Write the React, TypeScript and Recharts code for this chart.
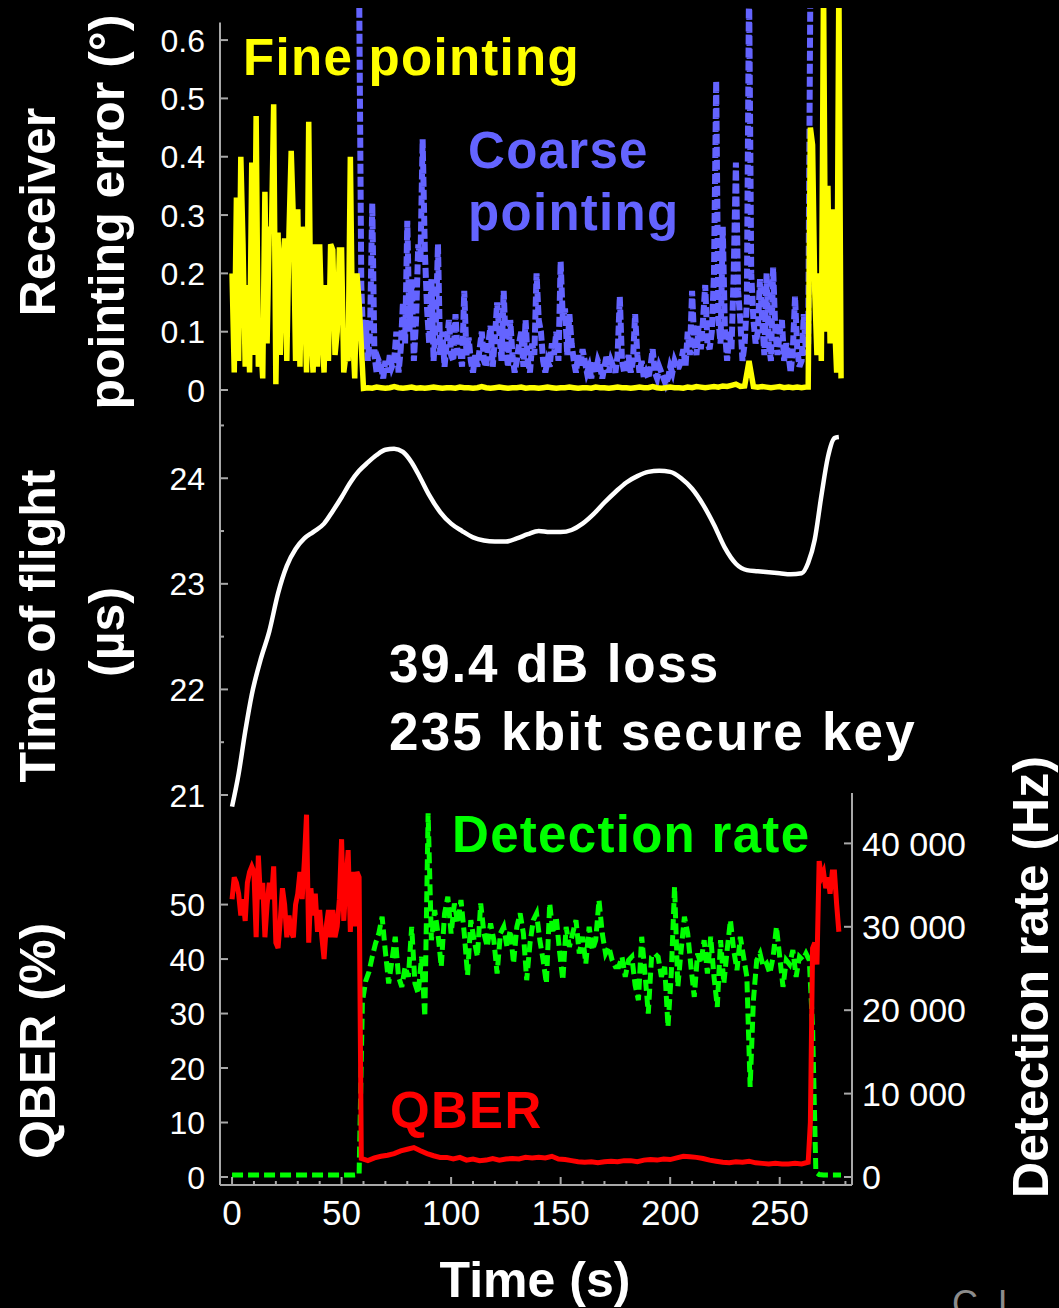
import React from 'react';
import { LineChart, Line, XAxis, YAxis, ReferenceLine } from 'recharts';

const FONT = '"Liberation Sans", Arial, Helvetica, sans-serif';
const AXIS_GRAY = '#a8a8a8';
const YELLOW = '#ffff00';
const BLUE = '#6464ff';
const GREEN = '#00ff00';
const RED = '#ff0000';
const WHITE = '#ffffff';

// ---- shared time axis (s) ----
const TIME_MIN = -5.5;
const TIME_MAX = 283;
const timeTicks = [0, 10, 20, 30, 40, 50, 60, 70, 80, 90, 100, 110, 120, 130, 140, 150, 160, 170, 180, 190, 200, 210, 220, 230, 240, 250, 260, 270, 280];
const timeLabelTicks = [0, 50, 100, 150, 200, 250];

// ---- receiver pointing error (deg) ----
const ERR_MIN = -0.0171;
const ERR_MAX = 0.655;
const errTicks = [0, 0.1, 0.2, 0.3, 0.4, 0.5, 0.6];

// fine pointing: acquisition phase, 1 s samples from t = 0
const fineAcqError = [
  0.2, 0.03, 0.33, 0.05, 0.4, 0.25, 0.04, 0.18, 0.03, 0.39,
  0.06, 0.47, 0.04, 0.09, 0.02, 0.34, 0.08, 0.28, 0.27, 0.49,
  0.01, 0.27, 0.06, 0.21, 0.26, 0.05, 0.27, 0.41, 0.29, 0.05,
  0.31, 0.04, 0.28, 0.18, 0.03, 0.46, 0.1, 0.03, 0.25, 0.04,
  0.25, 0.11, 0.03, 0.18, 0.05, 0.25, 0.24, 0.06, 0.1, 0.24,
  0.24, 0.03, 0.06, 0.05, 0.4, 0.1, 0.02, 0.2, 0.15,
];
// fine pointing while locked, 2 s samples from t = 60
const fineLockError = [
  0.003, 0.004, 0.003, 0.005, 0.004, 0.003, 0.004, 0.006, 0.004, 0.003,
  0.004, 0.005, 0.003, 0.004, 0.003, 0.004, 0.005, 0.004, 0.003, 0.004,
  0.004, 0.003, 0.005, 0.004, 0.004, 0.003, 0.004, 0.006, 0.004, 0.003,
  0.004, 0.005, 0.004, 0.003, 0.004, 0.004, 0.005, 0.003, 0.004, 0.004,
  0.003, 0.004, 0.005, 0.004, 0.003, 0.004, 0.004, 0.005, 0.004, 0.003,
  0.004, 0.004, 0.003, 0.005, 0.004, 0.004, 0.003, 0.004, 0.005, 0.004,
  0.004, 0.003, 0.004, 0.005, 0.004, 0.004, 0.006, 0.004, 0.003, 0.004,
  0.005, 0.004, 0.004, 0.003, 0.005, 0.004, 0.006, 0.005, 0.004, 0.005,
  0.006, 0.005, 0.007, 0.006, 0.008, 0.01, 0.006, 0.007, 0.05, 0.006,
  0.005, 0.006, 0.005, 0.004, 0.005, 0.006, 0.004, 0.005, 0.004, 0.005,
  0.004, 0.005,
];
// fine pointing after the lock is lost, 1 s samples from t = 263
const fineLossError = [0.005, 0.45, 0.42, 0.17, 0.06, 0.2, 0.05, 0.7, 0.1, 0.35, 0.08, 0.31, 0.12, 0.03, 0.7, 0.02];

// coarse pointing, 1 s samples from t = 58
const coarseError = [
  0.7, 0.18, 0.07, 0.12, 0.05, 0.1, 0.32, 0.06, 0.03, 0.05,
  0.04, 0.02, 0.05, 0.03, 0.06, 0.04, 0.05, 0.1, 0.03, 0.07,
  0.15, 0.08, 0.29, 0.1, 0.19, 0.05, 0.12, 0.25, 0.22, 0.43,
  0.24, 0.14, 0.08, 0.19, 0.05, 0.11, 0.25, 0.06, 0.1, 0.04,
  0.08, 0.12, 0.06, 0.05, 0.13, 0.06, 0.07, 0.04, 0.17, 0.06,
  0.09, 0.05, 0.03, 0.06, 0.04, 0.07, 0.1, 0.05, 0.04, 0.08,
  0.11, 0.04, 0.09, 0.15, 0.1, 0.05, 0.17, 0.07, 0.04, 0.12,
  0.06, 0.03, 0.05, 0.08, 0.1, 0.04, 0.12, 0.05, 0.03, 0.08,
  0.06, 0.2, 0.12, 0.1, 0.05, 0.03, 0.05, 0.04, 0.08, 0.06,
  0.1, 0.05, 0.22, 0.12, 0.14, 0.06, 0.13, 0.08, 0.05, 0.03,
  0.06, 0.04, 0.07, 0.05, 0.03, 0.04, 0.02, 0.05, 0.03, 0.05,
  0.04, 0.02, 0.04, 0.06, 0.03, 0.05, 0.04, 0.03, 0.06, 0.16,
  0.05, 0.03, 0.04, 0.06, 0.03, 0.05, 0.13, 0.06, 0.03, 0.05,
  0.02, 0.03, 0.02, 0.04, 0.07, 0.03, 0.02, 0.04, 0.03, 0.02,
  0.01, 0.02, 0.04, 0.03, 0.05, 0.04, 0.04, 0.05, 0.07, 0.04,
  0.1, 0.06, 0.17, 0.08, 0.06, 0.11, 0.07, 0.12, 0.18, 0.08,
  0.07, 0.1, 0.2, 0.53, 0.12, 0.08, 0.28, 0.1, 0.05, 0.1,
  0.07, 0.2, 0.39, 0.17, 0.12, 0.05, 0.08, 0.15, 0.7, 0.2,
  0.12, 0.08, 0.1, 0.19, 0.12, 0.06, 0.2, 0.08, 0.05, 0.21,
  0.1, 0.06, 0.1, 0.12, 0.05, 0.08, 0.06, 0.03, 0.07, 0.16,
  0.07, 0.04, 0.05, 0.13, 0.06, 0.08, 0.7,
];

// ---- time of flight (µs) ----
const TOF_MIN = 20.839;
const TOF_MAX = 24.741;
const tofTicks = [21, 21.5, 22, 22.5, 23, 23.5, 24, 24.5];
const tofLabelTicks = [21, 22, 23, 24];
const flightTimes = [
  0, 3, 6, 9, 13, 17, 21, 25, 29, 33, 37, 42, 46, 50, 54, 58, 62, 66, 70, 74, 78, 82, 86, 90,
  95, 100, 105, 110, 115, 120, 125, 130, 135, 140, 145, 150, 155, 160, 165, 170, 175, 180,
  185, 190, 195, 200, 205, 210, 215, 220, 225, 230, 235, 240, 245, 250, 255, 260,
  263, 266, 269, 272, 275, 277,
];
const flightValues = [
  20.89, 21.2, 21.6, 21.95, 22.28, 22.55, 22.91, 23.17, 23.33, 23.43, 23.49, 23.57, 23.69, 23.82,
  23.96, 24.07, 24.15, 24.22, 24.27, 24.28, 24.25, 24.15, 24.0, 23.84,
  23.68, 23.57, 23.5, 23.44, 23.41, 23.4, 23.4, 23.43, 23.47, 23.5, 23.49, 23.49, 23.51, 23.57,
  23.66, 23.77, 23.87, 23.96, 24.02, 24.06, 24.07, 24.06, 24.0, 23.9, 23.75, 23.56, 23.34, 23.19,
  23.13, 23.12, 23.11, 23.1, 23.09, 23.1,
  23.2, 23.42, 23.83, 24.2, 24.38, 24.39,
];

// ---- QBER (%) and detection rate (Hz) ----
const QBER_MIN = -1.47;
const QBER_MAX = 70.48;
const qberTicks = [0, 10, 20, 30, 40, 50];
const RATE_MIN = -959;
const RATE_MAX = 46043;
const rateTicks = [0, 10000, 20000, 30000, 40000];

// 1 s samples from t = 0
const qberAcquisition = [
  51, 55, 54, 52, 48, 51, 47, 54, 56, 57,
  56, 44, 59, 51, 54, 44, 50, 54, 51, 57,
  43, 42, 47, 53, 50, 44, 48, 45, 44, 50,
  52, 56, 51, 58, 66.5, 43, 53, 48, 52, 45,
  49, 44, 40, 46, 49, 44, 49, 44, 46, 51,
  62, 47, 54, 60, 45, 56, 46, 56, 55,
];
// 3 s samples from t = 59
const qberKeyExchange = [
  3.4, 3.0, 3.5, 3.8, 4.0, 4.3, 4.8, 5.1, 5.4, 4.8,
  4.3, 3.9, 3.6, 3.6, 3.3, 3.6, 3.1, 3.3, 3.0, 3.1,
  3.4, 3.1, 3.3, 3.4, 3.3, 3.6, 3.5, 3.6, 3.5, 3.8,
  3.3, 3.2, 3.0, 2.8, 2.7, 2.8, 2.6, 2.8, 2.9, 2.8,
  3.0, 3.0, 2.8, 3.1, 3.2, 3.1, 3.3, 3.2, 3.5, 3.8,
  3.7, 3.6, 3.4, 3.1, 2.9, 2.7, 2.6, 2.8, 2.7, 2.9,
  2.6, 2.5, 2.4, 2.5, 2.4, 2.4, 2.5, 2.4, 2.7,
];
// 1 s samples from t = 264
const qberLoss = [10, 42, 43, 39, 58, 55, 56, 53, 55, 52, 56, 56, 50, 45];

// 8 s samples from t = 0
const rateBeforeLink = [250, 250, 250, 250, 250, 250, 250, 250];
// 1.5 s samples from t = 58
const rateLink = [
  300, 21000, 23500, 24600, 26400, 28000, 29200, 31200, 27000, 23200,
  26000, 28800, 24000, 22800, 25200, 24000, 30000, 23200, 22000, 26400,
  19200, 43600, 28400, 32000, 29200, 25200, 31600, 33600, 29200, 32800,
  30400, 33200, 29200, 24200, 30800, 28400, 26400, 32800, 29200, 27600,
  30400, 28400, 24400, 29200, 30000, 27600, 29600, 25600, 30000, 31600,
  29200, 23600, 28000, 30800, 31600, 28400, 26000, 23200, 32800, 29200,
  31200, 27000, 23600, 30000, 27600, 29200, 30800, 26800, 28800, 25600,
  30000, 27200, 28400, 33200, 29200, 26800, 27600, 26000, 25200, 25200,
  26400, 24000, 26000, 26400, 23000, 21200, 28800, 24400, 19600, 26400,
  26800, 26400, 24000, 25200, 18000, 24400, 34800, 22800, 27200, 31200,
  29200, 25200, 21600, 26800, 25600, 28400, 24400, 28800, 24000, 20400,
  28400, 23200, 27200, 30800, 27200, 24800, 28800, 26400, 24000, 10800,
  21200, 26000, 26800, 25200, 25600, 24400, 26400, 30000, 26400, 22800,
  26000, 25500, 27200, 24000, 26400, 26000, 26800, 26000, 18000, 600,
];
// 2 s samples from t = 268
const rateAfterLink = [300, 250, 250, 250, 250, 250];

type Pt = { t: number; v: number };
const run = (start: number, step: number, values: number[]): Pt[] =>
  values.map((v, i) => ({ t: start + i * step, v }));

const fineData = [...run(0, 1, fineAcqError), ...run(60, 2, fineLockError), ...run(263, 1, fineLossError)];
const coarseData = run(58, 1, coarseError);
const flightData = flightTimes.map((t, i) => ({ t, v: flightValues[i] }));
const qberData = [...run(0, 1, qberAcquisition), ...run(59, 3, qberKeyExchange), ...run(264, 1, qberLoss)];
const rateData = [...run(0, 8, rateBeforeLink), ...run(58, 1.5, rateLink), ...run(268, 2, rateAfterLink)];

// ---- layout ----
const W = 1059;
const LEFT_W = 220;
const RIGHT_W = 207;

const fmtErr = (v: number) => (v === 0 ? '0' : v.toFixed(1));
const fmtPlain = (v: number) => String(v);
const fmtRate = (v: number) => (v === 0 ? '0' : `${v / 1000} 000`);

function AxisTick(props: any) {
  const { x, y, payload, side, majors, format, fontSize } = props;
  const v = payload.value as number;
  const major = majors.includes(v);
  const len = major ? 8 : 4;
  const textProps = { fill: WHITE, fontSize, fontFamily: FONT };
  if (side === 'left') {
    return (
      <g>
        <line x1={x} y1={y} x2={x + len} y2={y} stroke={AXIS_GRAY} strokeWidth={2} />
        {major && (
          <text x={x - 15} y={y} dy="0.36em" textAnchor="end" {...textProps}>
            {format(v)}
          </text>
        )}
      </g>
    );
  }
  if (side === 'right') {
    return (
      <g>
        <line x1={x - len} y1={y} x2={x} y2={y} stroke={AXIS_GRAY} strokeWidth={2} />
        {major && (
          <text x={x + 10} y={y} dy="0.36em" textAnchor="start" {...textProps}>
            {format(v)}
          </text>
        )}
      </g>
    );
  }
  return (
    <g>
      <line x1={x} y1={y - len} x2={x} y2={y} stroke={AXIS_GRAY} strokeWidth={2} />
      {major && (
        <text x={x} y={y + 40} textAnchor="middle" {...textProps}>
          {format(v)}
        </text>
      )}
    </g>
  );
}

const axisLineStyle = { stroke: AXIS_GRAY, strokeWidth: 2 };

function PointingPanel() {
  return (
    <LineChart width={W} height={392} margin={{ top: 0, right: RIGHT_W, bottom: 0, left: 0 }}>
      <XAxis dataKey="t" type="number" domain={[TIME_MIN, TIME_MAX]} allowDataOverflow hide />
      <YAxis
        type="number"
        width={LEFT_W}
        domain={[ERR_MIN, ERR_MAX]}
        allowDataOverflow
        ticks={errTicks}
        interval={0}
        axisLine={false}
        tickLine={false}
        tickSize={0}
        tickMargin={0}
        tick={<AxisTick side="left" majors={errTicks} format={fmtErr} fontSize={32} />}
      />
      <ReferenceLine
        segment={[{ x: TIME_MIN, y: ERR_MIN }, { x: TIME_MIN, y: 0.63 }]}
        stroke={AXIS_GRAY}
        strokeWidth={2}
        ifOverflow="visible"
      />
      <Line data={coarseData} dataKey="v" stroke={BLUE} strokeWidth={6} strokeDasharray="10 3" dot={false} activeDot={false} isAnimationActive={false} />
      <Line data={fineData} dataKey="v" stroke={YELLOW} strokeWidth={5.5} dot={false} activeDot={false} isAnimationActive={false} />
    </LineChart>
  );
}

function FlightPanel() {
  return (
    <LineChart width={W} height={412} margin={{ top: 0, right: RIGHT_W, bottom: 0, left: 0 }}>
      <XAxis dataKey="t" type="number" domain={[TIME_MIN, TIME_MAX]} allowDataOverflow hide />
      <YAxis
        type="number"
        width={LEFT_W}
        domain={[TOF_MIN, TOF_MAX]}
        allowDataOverflow
        ticks={tofTicks}
        interval={0}
        axisLine={axisLineStyle}
        tickLine={false}
        tickSize={0}
        tickMargin={0}
        tick={<AxisTick side="left" majors={tofLabelTicks} format={fmtPlain} fontSize={32} />}
      />
      <Line data={flightData} dataKey="v" type="monotone" stroke={WHITE} strokeWidth={4.5} dot={false} activeDot={false} isAnimationActive={false} />
    </LineChart>
  );
}

function LinkPanel() {
  return (
    <LineChart width={W} height={515} margin={{ top: 0, right: 0, bottom: 0, left: 0 }}>
      <XAxis
        dataKey="t"
        type="number"
        height={123}
        domain={[TIME_MIN, TIME_MAX]}
        allowDataOverflow
        ticks={timeTicks}
        interval={0}
        axisLine={axisLineStyle}
        tickLine={false}
        tickSize={0}
        tickMargin={0}
        tick={<AxisTick side="bottom" majors={timeLabelTicks} format={fmtPlain} fontSize={35} />}
      />
      <YAxis
        yAxisId="qber"
        type="number"
        width={LEFT_W}
        domain={[QBER_MIN, QBER_MAX]}
        allowDataOverflow
        ticks={qberTicks}
        interval={0}
        axisLine={axisLineStyle}
        tickLine={false}
        tickSize={0}
        tickMargin={0}
        tick={<AxisTick side="left" majors={qberTicks} format={fmtPlain} fontSize={32} />}
      />
      <YAxis
        yAxisId="rate"
        orientation="right"
        type="number"
        width={RIGHT_W}
        domain={[RATE_MIN, RATE_MAX]}
        allowDataOverflow
        ticks={rateTicks}
        interval={0}
        axisLine={axisLineStyle}
        tickLine={false}
        tickSize={0}
        tickMargin={0}
        tick={<AxisTick side="right" majors={rateTicks} format={fmtRate} fontSize={34} />}
      />
      <Line yAxisId="rate" data={rateData} dataKey="v" stroke={GREEN} strokeWidth={5} strokeDasharray="11 5" dot={false} activeDot={false} isAnimationActive={false} />
      <Line yAxisId="qber" data={qberData} dataKey="v" stroke={RED} strokeWidth={5} dot={false} activeDot={false} isAnimationActive={false} />
    </LineChart>
  );
}

const titleStyle = { fill: WHITE, fontFamily: FONT, fontWeight: 700, fontSize: 50 } as const;
const noteStyle = { fontFamily: FONT, fontWeight: 700, fontSize: 51, letterSpacing: 1.3 } as const;

function VerticalTitle({ x, y, children }: { x: number; y: number; children: React.ReactNode }) {
  return (
    <text x={x} y={y} transform={`rotate(-90 ${x} ${y})`} textAnchor="middle" {...titleStyle}>
      {children}
    </text>
  );
}

function Annotations() {
  return (
    <svg width={W} height={1308} style={{ position: 'absolute', left: 0, top: 0, pointerEvents: 'none' }}>
      <VerticalTitle x={55} y={212}>Receiver</VerticalTitle>
      <VerticalTitle x={124} y={212}>pointing error (°)</VerticalTitle>
      <VerticalTitle x={55} y={626}>Time of flight</VerticalTitle>
      <VerticalTitle x={124} y={632}>(µs)</VerticalTitle>
      <VerticalTitle x={55} y={1041}>QBER (%)</VerticalTitle>
      <VerticalTitle x={1048} y={977}>Detection rate (Hz)</VerticalTitle>
      <text x={535} y={1297} textAnchor="middle" {...titleStyle}>Time (s)</text>

      <text x={243} y={75} fill={YELLOW} {...noteStyle}>Fine pointing</text>
      <text x={468} y={168} fill={BLUE} {...noteStyle}>Coarse</text>
      <text x={468} y={230} fill={BLUE} {...noteStyle}>pointing</text>
      <text x={389} y={682} fill={WHITE} {...noteStyle} fontSize={53} letterSpacing={1.8}>39.4 dB loss</text>
      <text x={389} y={750} fill={WHITE} {...noteStyle} fontSize={53} letterSpacing={2.2}>235 kbit secure key</text>
      <text x={452} y={852} fill={GREEN} {...noteStyle}>Detection rate</text>
      <text x={390} y={1128} fill={RED} {...noteStyle}>QBER</text>
      <text x={952} y={1316} fill="#8c8c8c" fontFamily={FONT} fontSize={36}>C. L</text>
    </svg>
  );
}

export default function App() {
  return (
    <div style={{ position: 'absolute', left: 0, top: 0, width: W, height: 1308, background: '#000', overflow: 'hidden' }}>
      <style>{'.recharts-surface { overflow: visible; }'}</style>
      <div style={{ position: 'absolute', left: 0, top: 8 }}>
        <PointingPanel />
      </div>
      <div style={{ position: 'absolute', left: 0, top: 400 }}>
        <FlightPanel />
      </div>
      <div style={{ position: 'absolute', left: 0, top: 793 }}>
        <LinkPanel />
      </div>
      <Annotations />
    </div>
  );
}
